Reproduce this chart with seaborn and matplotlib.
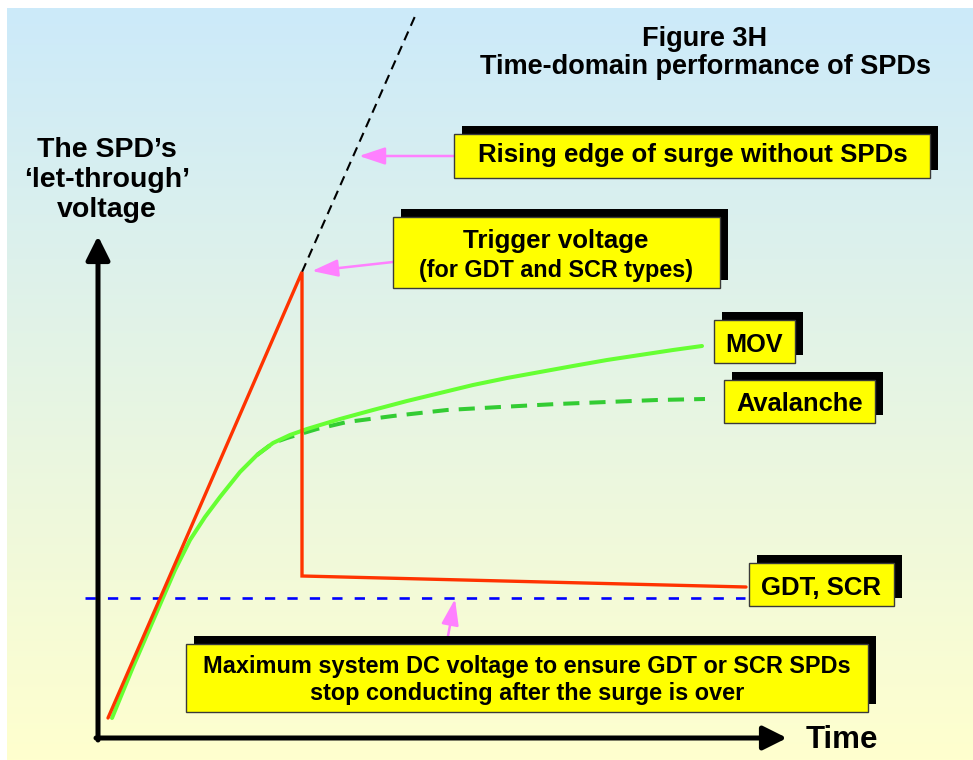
import numpy as np
import pandas as pd
import matplotlib
matplotlib.use("Agg")
import matplotlib.pyplot as plt
from matplotlib.patches import Rectangle
import seaborn as sns

# ---------------- data (time units, voltage units; arbitrary scale) ----------------
gdt_time = [10, 204, 204, 648]
gdt_volt = [20, 466, 162, 151]

surge_time = [204, 318]
surge_volt = [466, 724]

mov_time = [14, 35, 64, 77, 92, 107, 122, 142, 159, 175, 192, 209, 242, 275, 309,
            342, 375, 409, 442, 475, 509, 542, 575, 604]
mov_volt = [20, 71, 138, 168, 198, 221, 241, 266, 283, 295, 303, 309, 319, 328, 337,
            345, 353, 360, 366, 372, 378, 383, 388, 392]

aval_time = [159, 175, 189, 219, 249, 295, 349, 402, 459, 509, 559, 607]
aval_volt = [283, 295, 300, 309, 316, 322, 328, 331, 334, 336, 338, 339]

dc_time = [-13, 647]
dc_volt = [140, 140]

# ---------------- style ----------------
sns.set_theme(style="white")
plt.rcParams["font.family"] = ["Liberation Sans", "DejaVu Sans"]

W, H = 973, 760
X0, Y0 = 98, 738          # pixel position of the axes origin


def P(px, py):
    """pixel position -> data coordinates"""
    return (px - X0, Y0 - py)


fig = plt.figure(figsize=(W / 100, H / 100), dpi=100, facecolor="white")
ax = fig.add_axes([0, 0, 1, 1])
ax.set_xlim(-X0, W - X0)
ax.set_ylim(Y0 - H, Y0)
ax.axis("off")

# gradient background
top = np.array([204, 234, 250]) / 255
bot = np.array([255, 255, 206]) / 255
n = 256
grad = np.linspace(0, 1, n)[:, None, None]
img = top[None, None, :] * (1 - grad) + bot[None, None, :] * grad
x0, y0 = P(7, 8)
x1, y1 = P(W, H)
ax.imshow(img, extent=[x0, x1, y1, y0], aspect="auto", zorder=0, origin="upper")

# ---------------- lines ----------------
df_dc = pd.DataFrame({"t": dc_time, "v": dc_volt})
sns.lineplot(data=df_dc, x="t", y="v", ax=ax, color="#0000FF", lw=1.9,
             ls=(0, (3.9, 4.6)), estimator=None, sort=False, zorder=3)

df_s = pd.DataFrame({"t": surge_time, "v": surge_volt})
sns.lineplot(data=df_s, x="t", y="v", ax=ax, color="black", lw=1.5,
             ls=(0, (4.6, 3.0)), estimator=None, sort=False, zorder=3)

df_a = pd.DataFrame({"t": aval_time, "v": aval_volt})
sns.lineplot(data=df_a, x="t", y="v", ax=ax, color="#33CC33", lw=2.9,
             ls=(0, (4.0, 2.5)), estimator=None, sort=False, zorder=4)

df_m = pd.DataFrame({"t": mov_time, "v": mov_volt})
sns.lineplot(data=df_m, x="t", y="v", ax=ax, color="#66FF33", lw=2.9,
             estimator=None, sort=False, zorder=5)
ax.lines[-1].set_solid_joinstyle("round")

df_g = pd.DataFrame({"t": gdt_time, "v": gdt_volt})
sns.lineplot(data=df_g, x="t", y="v", ax=ax, color="#FF3300", lw=2.4,
             estimator=None, sort=False, zorder=6)
ax.lines[-1].set_solid_joinstyle("miter")

# ---------------- axes arrows ----------------
axis_kw = dict(arrowstyle="-|>,head_length=0.6,head_width=0.3", lw=3.6,
               color="black", mutation_scale=24, shrinkA=0, shrinkB=0)
ax.annotate("", xy=P(98, 236), xytext=P(98, 740), arrowprops=axis_kw, zorder=7)
ax.annotate("", xy=P(787, 738), xytext=P(96, 738), arrowprops=axis_kw, zorder=7)

# ---------------- labelled boxes ----------------
SH = 8
boxes = [
    (454, 134, 930, 178),   # rising edge
    (393, 217, 720, 288),   # trigger
    (714, 320, 795, 363),   # MOV
    (724, 380, 875, 423),   # Avalanche
    (749, 563, 894, 606),   # GDT, SCR
    (186, 644, 868, 712),   # maximum DC
]
for (l, t, r, b) in boxes:
    ax.add_patch(Rectangle(P(l + SH, b - SH), r - l, b - t, facecolor="black",
                           edgecolor="none", zorder=8))
    ax.add_patch(Rectangle(P(l, b), r - l, b - t, facecolor="#FFFF00",
                           edgecolor="#3a3a3a", lw=1.0, zorder=9))

tkw = dict(fontweight="bold", color="black", ha="center", va="baseline", zorder=10)
ax.text(*P(693, 162), "Rising edge of surge without SPDs", fontsize=18.6, **tkw)
ax.text(*P(556, 248), "Trigger voltage", fontsize=18.6, **tkw)
ax.text(*P(556, 277), "(for GDT and SCR types)", fontsize=16.8, **tkw)
ax.text(*P(754, 352), "MOV", fontsize=18.2, **tkw)
ax.text(*P(800, 411), "Avalanche", fontsize=18.4, **tkw)
ax.text(*P(821, 595), "GDT, SCR", fontsize=18.5, **tkw)
ax.text(*P(527, 673), "Maximum system DC voltage to ensure GDT or SCR SPDs",
        fontsize=16.9, **tkw)
ax.text(*P(527, 700), "stop conducting after the surge is over", fontsize=16.9, **tkw)

# titles and axis labels
ax.text(*P(705, 46), "Figure 3H", fontsize=19.5, **tkw)
ax.text(*P(705, 74), "Time-domain performance of SPDs", fontsize=19.5, **tkw)
ax.text(*P(107, 157), "The SPD\u2019s", fontsize=20.5, **tkw)
ax.text(*P(107, 187), "\u2018let-through\u2019", fontsize=20.5, **tkw)
ax.text(*P(107, 217), "voltage", fontsize=20.5, **tkw)
ax.text(*P(806, 748), "Time", fontsize=22.5, fontweight="bold", color="black",
        ha="left", va="baseline", zorder=10)

# ---------------- pink pointer arrows ----------------
pink_kw = dict(arrowstyle="-|>,head_length=0.66,head_width=0.22", lw=1.8,
               color="#FF80FF", mutation_scale=24, shrinkA=0, shrinkB=0)
ax.annotate("", xy=P(359, 156), xytext=P(454, 156), arrowprops=pink_kw, zorder=7)
ax.annotate("", xy=P(312, 271), xytext=P(393, 262), arrowprops=pink_kw, zorder=7)
ax.annotate("", xy=P(455, 599), xytext=P(448, 636), arrowprops=pink_kw, zorder=7)

fig.savefig("out.png", dpi=100, facecolor="white")
